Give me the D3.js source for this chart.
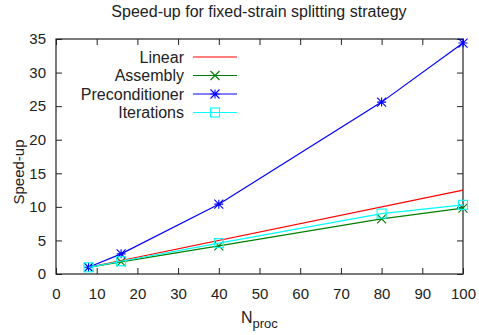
<!DOCTYPE html>
<html>
<head>
<meta charset="utf-8">
<script src="https://cdn.jsdelivr.net/npm/d3@7"></script>
<style>
  body { margin: 0; background: #fff; }
  text { font-family: "Liberation Sans", Arial, sans-serif; fill: #222; }
</style>
</head>
<body>
<svg id="chart" width="479" height="335"></svg>
<script>
// data
const nproc = [8, 16, 40, 80, 100];
const linear = [1, 12.5];
const linearN = [8, 100];
const assembly = [1, 1.8, 4.2, 8.2, 9.8];
const precond = [1, 3.0, 10.4, 25.6, 34.4];
const iterations = [1, 1.9, 4.6, 9.0, 10.3];
const xTicks = [0, 10, 20, 30, 40, 50, 60, 70, 80, 90, 100];
const yTicks = [0, 5, 10, 15, 20, 25, 30, 35];

const series = [
  { name: "Linear", x: linearN, y: linear, color: "#ff0000", marker: null },
  { name: "Assembly", x: nproc, y: assembly, color: "#008000", marker: "cross" },
  { name: "Preconditioner", x: nproc, y: precond, color: "#0000ff", marker: "star" },
  { name: "Iterations", x: nproc, y: iterations, color: "#00ffff", marker: "square" },
];

const svg = d3.select("#chart");
const box = { left: 56, right: 463, top: 39, bottom: 274 };

const xScale = d3.scaleLinear().domain([0, 100]).range([box.left, box.right]);
const yScale = d3.scaleLinear().domain([0, 35]).range([box.bottom, box.top]);

// title
svg.append("text")
  .attr("x", 259).attr("y", 17)
  .attr("text-anchor", "middle")
  .attr("font-size", 16)
  .text("Speed-up for fixed-strain splitting strategy");

// axes with mirrored ticks (gnuplot style)
const tickLen = 6;
svg.append("g")
  .attr("transform", `translate(0, ${box.bottom})`)
  .call(d3.axisBottom(xScale).tickValues(xTicks).tickSize(-tickLen).tickPadding(tickLen + 8))
  .call((g) => g.select(".domain").remove());
svg.append("g")
  .attr("transform", `translate(0, ${box.top})`)
  .call(d3.axisTop(xScale).tickValues(xTicks).tickSize(-tickLen).tickFormat(""))
  .call((g) => g.select(".domain").remove());
svg.append("g")
  .attr("transform", `translate(${box.left}, 0)`)
  .call(d3.axisLeft(yScale).tickValues(yTicks).tickSize(-tickLen).tickPadding(tickLen + 4))
  .call((g) => g.select(".domain").remove());
svg.append("g")
  .attr("transform", `translate(${box.right}, 0)`)
  .call(d3.axisRight(yScale).tickValues(yTicks).tickSize(-tickLen).tickFormat(""))
  .call((g) => g.select(".domain").remove());

svg.selectAll(".tick line").attr("stroke", "#222");
svg.selectAll(".tick text").attr("font-size", 15).attr("fill", "#222")
  .style("font-family", "'Liberation Sans', Arial, sans-serif");

// frame
svg.append("rect")
  .attr("x", box.left).attr("y", box.top)
  .attr("width", box.right - box.left).attr("height", box.bottom - box.top)
  .attr("fill", "none").attr("stroke", "#222").attr("stroke-width", 1.2);

// axis labels
svg.append("text")
  .attr("transform", `translate(24, 172) rotate(-90)`)
  .attr("text-anchor", "middle")
  .attr("font-size", 15)
  .text("Speed-up");

const xl = svg.append("text")
  .attr("x", 241).attr("y", 323)
  .attr("font-size", 16);
xl.append("tspan").text("N");
xl.append("tspan").attr("font-size", 13).attr("dy", 5).text("proc");

// marker drawing
function drawMarker(g, type, cx, cy, color) {
  const s = 4.5;
  if (type === "cross") {
    g.append("path")
      .attr("d", `M${cx - s},${cy - s}L${cx + s},${cy + s}M${cx - s},${cy + s}L${cx + s},${cy - s}`)
      .attr("stroke", color).attr("stroke-width", 1.1);
  } else if (type === "star") {
    g.append("path")
      .attr("d", `M${cx - s},${cy - s}L${cx + s},${cy + s}M${cx - s},${cy + s}L${cx + s},${cy - s}` +
        `M${cx - s},${cy}L${cx + s},${cy}M${cx},${cy - s}L${cx},${cy + s}`)
      .attr("stroke", color).attr("stroke-width", 1.1);
  } else if (type === "square") {
    g.append("rect")
      .attr("x", cx - s).attr("y", cy - s)
      .attr("width", 2 * s).attr("height", 2 * s)
      .attr("fill", "none").attr("stroke", color).attr("stroke-width", 1.1);
  }
}

// lines and points
const line = d3.line().x((d) => xScale(d[0])).y((d) => yScale(d[1]));
series.forEach((s) => {
  const pts = s.x.map((x, i) => [x, s.y[i]]);
  const g = svg.append("g");
  g.append("path")
    .datum(pts)
    .attr("fill", "none")
    .attr("stroke", s.color)
    .attr("stroke-width", 1.2)
    .attr("d", line);
  if (s.marker) {
    pts.forEach((p) => drawMarker(g, s.marker, xScale(p[0]), yScale(p[1]), s.color));
  }
});

// legend
const legend = svg.append("g");
series.forEach((s, i) => {
  const y = 57 + i * 18.5;
  legend.append("text")
    .attr("x", 184).attr("y", y + 5.5)
    .attr("text-anchor", "end")
    .attr("font-size", 16)
    .text(s.name);
  legend.append("line")
    .attr("x1", 193).attr("x2", 237).attr("y1", y).attr("y2", y)
    .attr("stroke", s.color).attr("stroke-width", 1.2);
  if (s.marker) drawMarker(legend, s.marker, 215, y, s.color);
});
</script>
</body>
</html>
